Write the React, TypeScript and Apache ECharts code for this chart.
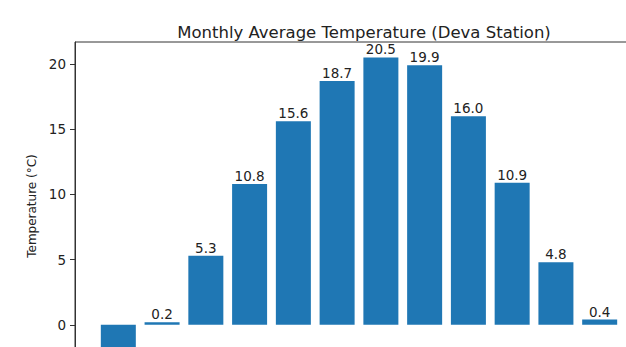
import React, { useEffect, useRef } from "react";
import * as echarts from "echarts";

const months = ["Jan", "Feb", "Mar", "Apr", "May", "Jun", "Jul", "Aug", "Sep", "Oct", "Nov", "Dec"];
const temps = [-3.2, 0.2, 5.3, 10.8, 15.6, 18.7, 20.5, 19.9, 16.0, 10.9, 4.8, 0.4];
const yTicks = [0, 5, 10, 15, 20];
const titleText = "Monthly Average Temperature (Deva Station)";
const yName = "Temperature (°C)";

const FONT = "DejaVu Sans";

export default function App() {
  const ref = useRef<HTMLDivElement>(null);
  useEffect(() => {
    document.body.style.margin = "0";
    const chart = echarts.init(ref.current!, null, { renderer: "svg" });
    const n = temps.length;
    const dMin = Math.min(...temps);
    const dMax = Math.max(...temps);
    const yMin = dMin - 0.05 * (dMax - dMin);
    const yMax = dMax + 0.05 * (dMax - dMin);
    const xMin = -0.4 - 0.05 * (n - 1 + 0.8);
    const xMax = n - 1 + 0.4 + 0.05 * (n - 1 + 0.8);
    chart.setOption({
      animation: false,
      title: {
        text: titleText,
        left: 359,
        textAlign: "center",
        top: 19,
        textStyle: { fontFamily: FONT, fontSize: 16.5, fontWeight: "normal", color: "#222" },
      },
      grid: {
        left: 75,
        top: 42,
        width: 568,
        height: 340,
        show: true,
        borderColor: "#333",
        borderWidth: 1,
        containLabel: false,
      },
      xAxis: {
        type: "value",
        min: xMin,
        max: xMax,
        show: false,
      },
      yAxis: {
        type: "value",
        min: yMin,
        max: yMax,
        name: yName,
        nameLocation: "middle",
        nameGap: 31,
        nameTextStyle: { fontFamily: FONT, fontSize: 12, color: "#222", padding: [0, 0, 0, 12] },
        axisLine: { show: true, onZero: false, lineStyle: { color: "#333", width: 1 } },
        axisTick: { show: true, length: 5, customValues: yTicks, lineStyle: { color: "#333" } },
        axisLabel: {
          customValues: yTicks,
          margin: 9,
          fontFamily: FONT,
          fontSize: 13.5,
          color: "#222",
        },
        splitLine: { show: false },
      },
      series: [
        {
          type: "bar",
          barWidth: 35,
          itemStyle: { color: "#1f77b4" },
          label: {
            show: true,
            fontFamily: FONT,
            fontSize: 13.5,
            color: "#222",
            distance: 1,
            formatter: (p: any) => p.value[1].toFixed(1),
          },
          data: temps.map((v, i) => ({
            name: months[i],
            value: [i, v],
            label: { show: v >= 0, position: "top" },
          })),
        },
      ],
    });
    return () => chart.dispose();
  }, []);
  return (
    <div style={{ position: "fixed", left: 0, top: 0, width: 626, height: 347, overflow: "hidden", background: "#fff" }}>
      <div ref={ref} style={{ width: 700, height: 420 }} />
    </div>
  );
}
